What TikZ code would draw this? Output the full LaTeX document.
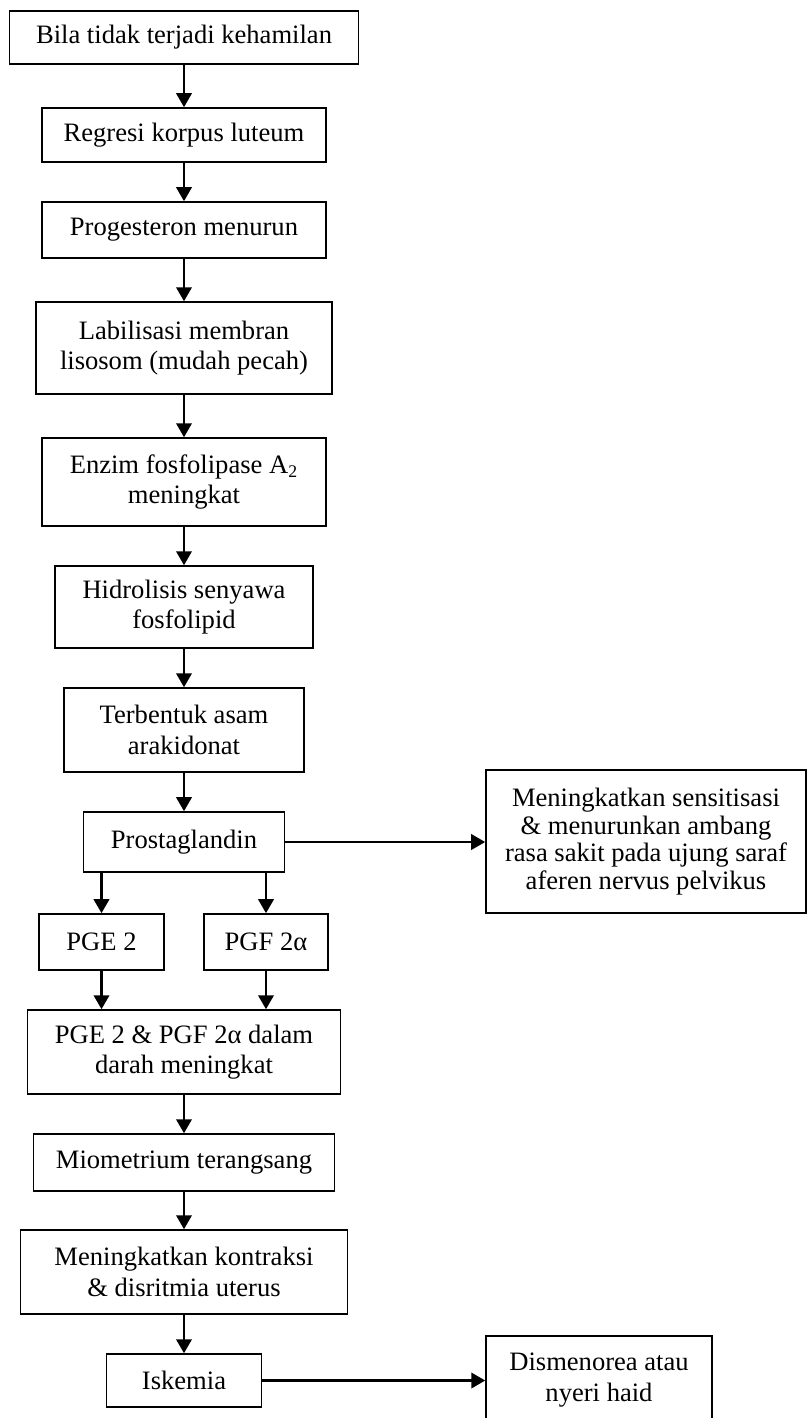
\documentclass[tikz,border=0pt]{standalone}
\usepackage{fontspec}
\setmainfont{Liberation Serif}
\usetikzlibrary{arrows.meta}

\begin{document}
\begin{tikzpicture}[x=0.4515pt, y=-0.4515pt, >={Triangle[length=6.3pt,width=7pt]},
	kotak/.style={draw, line width=0.75pt, align=center, inner sep=0pt, font=\fontsize{12}{13.8}\selectfont},
	panah/.style={->, line width=1pt}]
		
		\useasboundingbox (0,0) rectangle (808,1418);
		
		% --- Kolom utama (atas)
		\node[kotak, minimum width=157.6pt, minimum height=23.9pt] (hamil) at (184,37.5) {Bila tidak terjadi kehamilan};
		\node[kotak, minimum width=128.2pt, minimum height=24.4pt] (regresi) at (184,135) {Regresi korpus luteum};
		\node[kotak, minimum width=128.5pt, minimum height=25.3pt] (progesteron) at (184,230) {Progesteron menurun};
		\node[kotak, minimum width=133.6pt, minimum height=41.5pt] (lisosom) at (184,348) {Labilisasi membran\\lisosom (mudah pecah)};
		\node[kotak, minimum width=128.2pt, minimum height=39.7pt] (enzim) at (184,482) {Enzim fosfolipase A\textsubscript{2}\\meningkat};
		\node[kotak, minimum width=116.5pt, minimum height=37pt] (hidrolisis) at (184,607) {Hidrolisis senyawa\\fosfolipid};
		\node[kotak, minimum width=108.4pt, minimum height=37.9pt] (arakidonat) at (184,730) {Terbentuk asam\\arakidonat};
		\node[kotak, minimum width=90.8pt, minimum height=27.1pt] (prosta) at (184,842) {Prostaglandin};
		
		% Cabang ke kanan
		\node[kotak, minimum width=144.5pt, minimum height=64.6pt, font=\fontsize{12}{12.5}\selectfont] (sensitisasi) at (646,841.5) {Meningkatkan sensitisasi\\\& menurunkan ambang\\rasa sakit pada ujung saraf\\aferen nervus pelvikus};
		
		% --- PGE 2 dan PGF 2alpha
		\node[kotak, minimum width=56.4pt, minimum height=25.3pt] (pge) at (101.5,942) {PGE 2};
		\node[kotak, minimum width=56pt, minimum height=25.3pt] (pgf) at (266,942) {PGF 2α};
		
		% --- Kolom utama (bawah)
		\node[kotak, minimum width=141.3pt, minimum height=37.9pt] (darah) at (184,1052) {PGE 2 \& PGF 2α dalam\\darah meningkat};
		\node[kotak, minimum width=135.9pt, minimum height=25.7pt] (miometrium) at (184,1162.5) {Miometrium terangsang};
		\node[kotak, minimum width=147.6pt, minimum height=37.9pt] (kontraksi) at (184,1272) {Meningkatkan kontraksi\\\& disritmia uterus};
		\node[kotak, minimum width=70pt, minimum height=23.9pt] (iskemia) at (184,1380.5) {Iskemia};
		\node[kotak, minimum width=102pt, minimum height=39.7pt] (dismenorea) at (599,1380) {Dismenorea atau\\nyeri haid};
		
		% --- Panah
		\draw[panah] (hamil) -- (regresi);
		\draw[panah] (regresi) -- (progesteron);
		\draw[panah] (progesteron) -- (lisosom);
		\draw[panah] (lisosom) -- (enzim);
		\draw[panah] (enzim) -- (hidrolisis);
		\draw[panah] (hidrolisis) -- (arakidonat);
		\draw[panah] (arakidonat) -- (prosta);
		\draw[panah] (prosta.east) -- (prosta.east -| sensitisasi.west);
		\draw[panah] (prosta.south -| pge.north) -- (pge.north);
		\draw[panah] (prosta.south -| pgf.north) -- (pgf.north);
		\draw[panah] (pge.south) -- (pge.south |- darah.north);
		\draw[panah] (pgf.south) -- (pgf.south |- darah.north);
		\draw[panah] (darah) -- (miometrium);
		\draw[panah] (miometrium) -- (kontraksi);
		\draw[panah] (kontraksi) -- (iskemia);
		\draw[panah] (iskemia.east) -- (iskemia.east -| dismenorea.west);
		
	\end{tikzpicture}
\end{document}
